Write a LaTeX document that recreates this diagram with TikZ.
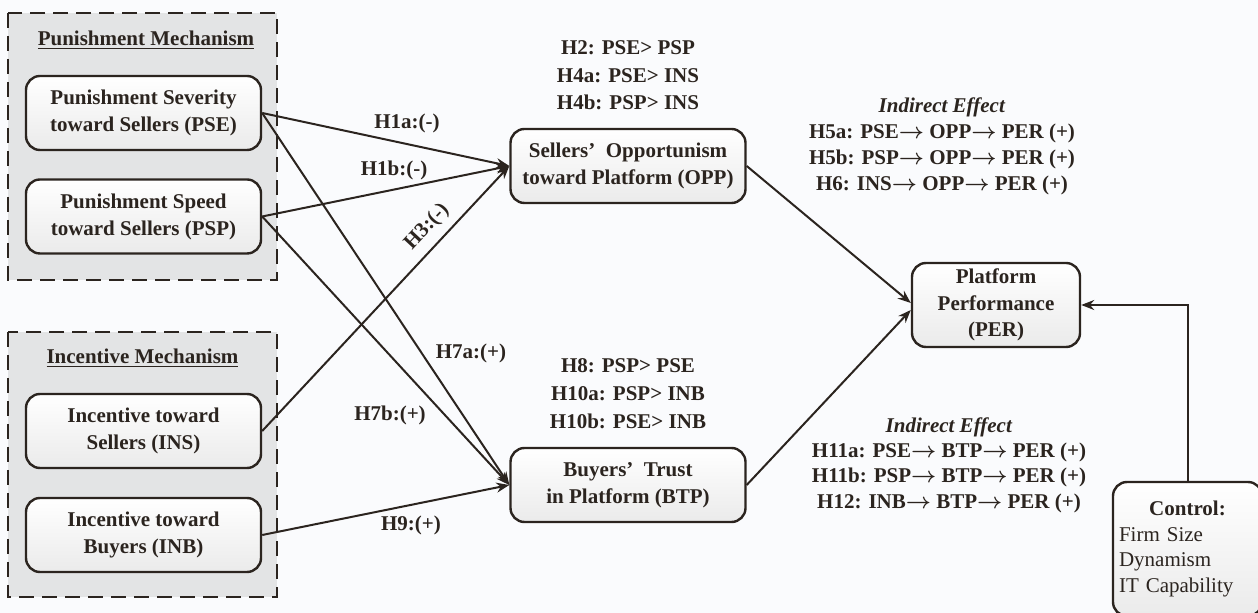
\documentclass[tikz,border=0pt]{standalone}
\usepackage{fontspec}
\setmainfont{Liberation Serif}
\usetikzlibrary{arrows.meta}
\definecolor{inkc}{RGB}{43,36,31}
\definecolor{bgc}{RGB}{250,251,253}
\definecolor{grpc}{RGB}{227,228,229}
\tikzset{>={Stealth[length=6.5pt,width=5pt]}}
\tikzstyle{box} = [draw=inkc, line width=1.2pt, rounded corners=7pt, top color=white, bottom color=black!8, minimum width=117.5pt, minimum height=37pt, align=center, inner sep=2pt, text=inkc, font=\bfseries\fontsize{10.5}{13.5}\selectfont]
\tikzstyle{group} = [draw=inkc, fill=grpc, line width=1.4pt, dash pattern=on 7.5pt off 4pt]
\tikzstyle{title} = [text=inkc, font=\bfseries\fontsize{10.5}{13}\selectfont]
\tikzstyle{hyp} = [text=inkc, align=center, font=\bfseries\boldmath\fontsize{10.5}{13.75}\selectfont]
\tikzstyle{arr} = [->, draw=inkc, line width=1pt]

\begin{document}
\begin{tikzpicture}[x=0.5pt, y=-0.5pt]
		% Canvas
		\path[use as bounding box, fill=bgc] (0,0) rectangle (1258,613);
		
		% Groups
		\draw[group] (8,13) rectangle (277,280);
		\draw[group] (8,332) rectangle (277,597);
		\node[title] (punish) at (146,40) {\underline{Punishment Mechanism}};
		\node[title] (incent) at (142.5,358) {\underline{Incentive Mechanism}};
		
		% Boxes
		\node[box] (PSE) at (143.5,113) {Punishment Severity\\toward Sellers (PSE)};
		\node[box] (PSP) at (143.5,216.5) {Punishment Speed\\toward Sellers (PSP)};
		\node[box] (INS) at (143.5,431) {Incentive toward\\Sellers (INS)};
		\node[box] (INB) at (143.5,535) {Incentive toward\\Buyers (INB)};
		\node[box] (OPP) at (628,166) {Sellers’\enspace Opportunism\\toward Platform (OPP)};
		\node[box] (BTP) at (628,485) {Buyers’\enspace Trust\\in Platform (BTP)};
		\node[box, minimum width=84pt, minimum height=42pt, font=\bfseries\fontsize{10.5}{13.25}\selectfont] (PER) at (996,305) {Platform\\Performance\\(PER)};
		\node[box, minimum width=74.5pt, minimum height=67pt, text width=68.5pt, align=left, inner xsep=3pt, font=\fontsize{10.5}{12.8}\selectfont] (ctrl) at (1187.5,549) {\makebox[\linewidth]{\textbf{Control:}}\\Firm Size\\Dynamism\\IT Capability};
		
		% Paths
		\draw[arr] (PSE.east) -- (OPP.west);
		\draw[arr] (PSP.east) -- (OPP.west);
		\draw[arr] (INS.east) -- (OPP.west);
		\draw[arr] (PSE.east) -- (BTP.west);
		\draw[arr] (PSP.east) -- (BTP.west);
		\draw[arr] (INB.east) -- (BTP.west);
		\draw[arr] (OPP.east) -- ([yshift=1pt]PER.west);
		\draw[arr] (BTP.east) -- ([yshift=-2.5pt]PER.west);
		\draw[arr] (ctrl.north) |- (PER.east);
		
		% Path labels
		\node[hyp] (h1a) at (407,123) {H1a:(-)};
		\node[hyp] (h1b) at (394,170) {H1b:(-)};
		\node[hyp, rotate=47] (h3) at (427,227) {H3:(-)};
		\node[hyp] (h7a) at (471,353) {H7a:(+)};
		\node[hyp] (h7b) at (390,415) {H7b:(+)};
		\node[hyp] (h9) at (411,525) {H9:(+)};
		
		% Hypotheses
		\node[hyp] (cmpA) at (628,75.5) {H2: PSE> PSP\\H4a: PSE> INS\\H4b: PSP> INS};
		\node[hyp, font=\bfseries\boldmath\fontsize{10.5}{14}\selectfont] (cmpB) at (628,394) {H8: PSP> PSE\\H10a: PSP> INB\\H10b: PSE> INB};
		\node[hyp, font=\bfseries\boldmath\fontsize{10.5}{13}\selectfont] (indA) at (942,146) {\textit{Indirect Effect}\\H5a: PSE$\rightarrow$ OPP$\rightarrow$ PER (+)\\H5b: PSP$\rightarrow$ OPP$\rightarrow$ PER (+)\\H6: INS$\rightarrow$ OPP$\rightarrow$ PER (+)};
		\node[hyp, font=\bfseries\boldmath\fontsize{10.5}{12.7}\selectfont] (indB) at (949,465) {\textit{Indirect Effect}\\H11a: PSE$\rightarrow$ BTP$\rightarrow$ PER (+)\\H11b: PSP$\rightarrow$ BTP$\rightarrow$ PER (+)\\H12: INB$\rightarrow$ BTP$\rightarrow$ PER (+)};
	\end{tikzpicture}
\end{document}
